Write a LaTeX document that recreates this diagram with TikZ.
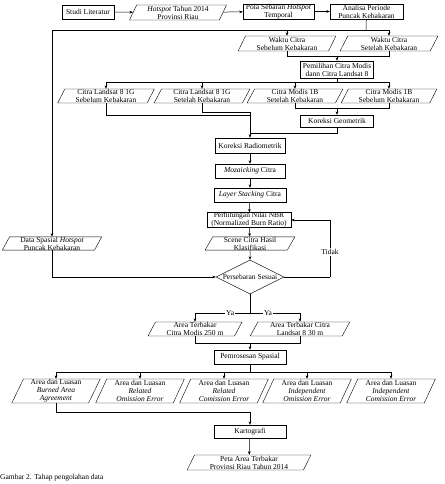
\documentclass[tikz,border=0pt]{standalone}
\usepackage{fontspec}
\setmainfont{Liberation Serif}
\usetikzlibrary{shapes.geometric,arrows.meta}

\begin{document}
\begin{tikzpicture}[x=1pt,y=-1pt,
		font=\fontsize{7.5}{7.9}\selectfont,
		line/.style={draw,line width=0.5pt},
		arr/.style={line,-{Stealth[length=3.5pt,width=2.8pt]}},
		proc/.style={
			draw,rectangle,align=center,inner sep=0pt,minimum height=14pt
		},
		data/.style={
			draw,trapezium,trapezium left angle=68,trapezium right angle=112,
			trapezium stretches=true,align=center,inner sep=0pt,minimum height=14pt
		},
		decide/.style={
			draw,diamond,aspect=2,inner sep=0pt,minimum width=68pt,minimum height=34pt
		},
		lbl/.style={fill=white,inner sep=1pt}
		]
		\useasboundingbox (0,0) rectangle (444,484);
		% top row
		\node[proc,minimum width=52pt] (lit) at (88,12) {Studi Literatur};
		\node[data,minimum width=97pt,minimum height=15pt] (hot) at (178,12.5) {\textit{Hotspot} Tahun 2014\\Provinsi Riau};
		\node[proc,minimum width=71pt,minimum height=15pt] (pola) at (278.5,11.5) {Pola Sebaran \textit{Hotspot}\\Temporal};
		\node[proc,minimum width=73pt,minimum height=15pt] (ana) at (366.5,11.5) {Analisa Periode\\Puncak Kebakaran};
		% waktu citra
		\node[data,minimum width=98pt,minimum height=15pt] (wsb) at (287,43.5) {Waktu Citra\\Sebelum Kebakaran};
		\node[data,minimum width=98pt,minimum height=15pt] (wst) at (389,43.5) {Waktu Citra\\Setelah Kebakaran};
		\node[proc,minimum width=73pt,minimum height=17pt] (pem) at (337,69.5) {Pemilihan Citra Modis\\dann Citra Landsat 8};
		% citra
		\node[data,minimum width=97pt] (ls1) at (106,96) {Citra Landsat 8 1G\\Sebelum Kebakaran};
		\node[data,minimum width=96pt] (ls2) at (202,96) {Citra Landsat 8 1G\\Setelah Kebakaran};
		\node[data,minimum width=96pt] (md1) at (295,96) {Citra Modis 1B\\Setelah Kebakaran};
		\node[data,minimum width=96pt] (md2) at (389,96) {Citra Modis 1B\\Sebelum Kebakaran};
		\node[proc,minimum width=73pt,minimum height=12pt] (kg) at (337,121) {Koreksi Geometrik};
		% pengolahan
		\node[proc,minimum width=70pt,minimum height=15pt] (kr) at (250,145.5) {Koreksi Radiometrik};
		\node[proc,minimum width=70pt] (mos) at (250,171) {\textit{Mozaicking} Citra};
		\node[proc,minimum width=72pt] (lay) at (250,195) {\textit{Layer Stacking} Citra};
		\node[proc,minimum width=84pt] (nbr) at (249,220) {Perhitungan Nilai NBR\\(Normalized Burn Ratio)};
		\node[data,minimum width=90pt,minimum height=13pt] (sc) at (250,243.5) {Scene Citra Hasil\\Klasifikasi};
		\node[data,minimum width=100pt,minimum height=13pt] (dsh) at (52,243.5) {Data Spasial \textit{Hotspot}\\Puncak Kebakaran};
		\node[decide] (dec) at (250,277) {Persebaran Sesuai};
		% hasil
		\node[data,minimum width=94pt] (at1) at (195,329) {Area Terbakar\\Citra Modis 250 m};
		\node[data,minimum width=100pt] (at2) at (300,329) {Area Terbakar Citra\\Landsat 8 30 m};
		\node[proc,minimum width=72pt] (ps) at (250,357) {Pemrosesan Spasial};
		\node[data,minimum width=89pt,minimum height=24pt] (a1) at (56,391) {Area dan Luasan\\\textit{Burned Area}\\\textit{Agreement}};
		\node[data,minimum width=89pt,minimum height=24pt] (a2) at (140,391) {Area dan Luasan\\\textit{Related}\\\textit{Omission Error}};
		\node[data,minimum width=89pt,minimum height=24pt] (a3) at (224,391) {Area dan Luasan\\\textit{Related}\\\textit{Comission Error}};
		\node[data,minimum width=89pt,minimum height=24pt] (a4) at (307,391) {Area dan Luasan\\\textit{Independent}\\\textit{Omission Error}};
		\node[data,minimum width=89pt,minimum height=24pt] (a5) at (391,391) {Area dan Luasan\\\textit{Independent}\\\textit{Comission Error}};
		\node[proc,minimum width=72pt,minimum height=13pt] (kar) at (250,431.5) {Kartografi};
		\node[data,minimum width=124pt,minimum height=15pt] (peta) at (249,462.5) {Peta Area Terbakar\\Provinsi Riau Tahun 2014};
		\node[anchor=west,inner sep=0pt] (cap) at (0,478) {Gambar 2. Tahap pengolahan data};
		% junctions
		\coordinate (ja) at (366,30);
		\coordinate (jb) at (337,56);
		\coordinate (jc) at (337,82);
		\coordinate (jd) at (250,112);
		\coordinate (je) at (250,115);
		\coordinate (jm) at (337,108);
		\coordinate (jg) at (250,133);
		\coordinate (jt) at (330,277);
		\coordinate (jy) at (250,313);
		\coordinate (jz) at (250,343);
		\coordinate (jp) at (250,372);
		\coordinate (jk) at (250,412);
		% connectors
		\draw[arr] (lit) -- (hot);
		\draw[arr] (hot) -- (pola);
		\draw[arr] (pola) -- (ana);
		\draw[line] (ana) -- (ja);
		\draw[arr] (ja) -| (wsb);
		\draw[arr] (ja) -| (wst);
		\draw[arr] (ja) -| (dsh);
		\draw[line] (wsb) |- (jb);
		\draw[line] (wst) |- (jb);
		\draw[arr] (jb) -- (pem);
		\draw[line] (pem) -- (jc);
		\foreach \n in {ls1,ls2,md1,md2}
			\draw[arr] (jc) -| (\n);
		\draw[line] (md1) |- (jm);
		\draw[line] (md2) |- (jm);
		\draw[arr] (jm) -- (kg);
		\draw[line] (kg) |- (jg);
		\draw[line] (ls2) |- (jd);
		\draw[line] (ls1) |- (je);
		\draw[arr] (jd) -- (kr);
		\draw[arr] (kr) -- (mos);
		\draw[arr] (mos) -- (lay);
		\draw[arr] (lay) -- (nbr);
		\draw[arr] (nbr) -- (sc);
		\draw[arr] (sc) -- (dec);
		\draw[arr] (dsh) |- (dec);
		\draw[line] (dec) -- (jt);
		\draw[arr] (jt) |- (nbr);
		\node[lbl] (tdk) at (330,252) {Tidak};
		\draw[line] (dec) -- (jy);
		\draw[arr] (jy) -| node[lbl,pos=0.18] (ya1) {Ya} (at1);
		\draw[arr] (jy) -| node[lbl,pos=0.18] (ya2) {Ya} (at2);
		\draw[line] (at1) |- (jz);
		\draw[line] (at2) |- (jz);
		\draw[arr] (jz) -- (ps);
		\draw[line] (ps) -- (jp);
		\foreach \n in {a1,a2,a3,a4,a5}
			\draw[arr] (jp) -| (\n);
		\draw[line] (a1) |- (jk);
		\draw[arr] (jk) -- (kar);
		\draw[arr] (kar) -- (peta);
\end{tikzpicture}
\end{document}
